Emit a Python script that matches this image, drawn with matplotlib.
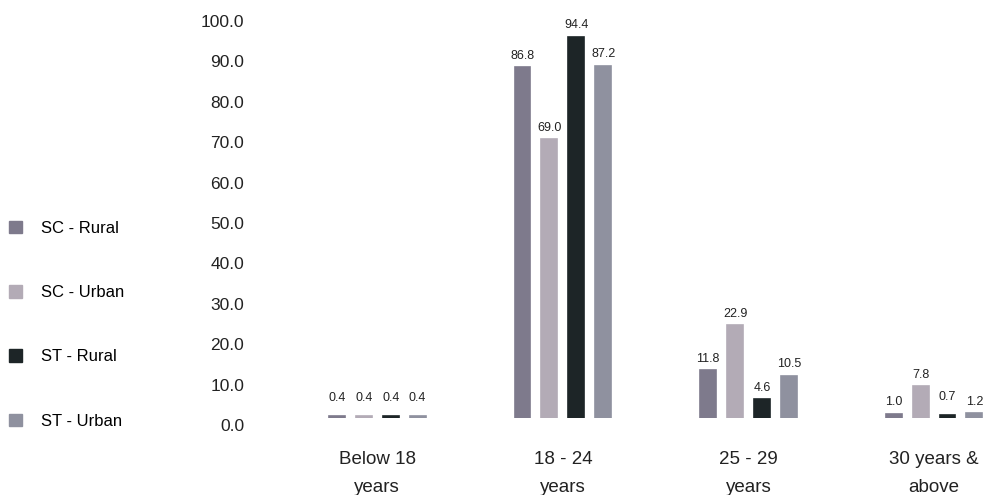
import numpy as np
import matplotlib.pyplot as plt
from matplotlib.patches import Patch
from matplotlib.transforms import ScaledTranslation

plt.rcParams['font.family'] = ['Liberation Sans', 'DejaVu Sans']

categories = ['Below 18\nyears', '18 - 24\nyears', '25 - 29\nyears', '30 years &\nabove']
series = ['SC - Rural', 'SC - Urban', 'ST - Rural', 'ST - Urban']
sc_rural = [0.4, 86.8, 11.8, 1.0]
sc_urban = [0.4, 69.0, 22.9, 7.8]
st_rural = [0.4, 94.4, 4.6, 0.7]
st_urban = [0.4, 87.2, 10.5, 1.2]
colors = ['#7e7a8c', '#b3abb6', '#1d2527', '#8f919f']

def main():
    fig = plt.figure(figsize=(9.86, 4.95), dpi=100)
    ax = fig.add_axes([0.259, 0.1556, 0.741, 0.816])

    x = np.arange(len(categories))
    step = 0.145
    width = 0.086
    values = [sc_rural, sc_urban, st_rural, st_urban]
    for i, vals in enumerate(values):
        pos = x + (i - 1.5) * step
        bars = ax.bar(pos, vals, width, color=colors[i], label=series[i],
                      edgecolor=colors[i], linewidth=1.2)
        for b, v in zip(bars, vals):
            off = 9 if v < 1 else 4
            ax.annotate(f'{v:.1f}', (b.get_x() + b.get_width() / 2, v),
                        xytext=(0, off), textcoords='offset points',
                        ha='center', va='bottom', fontsize=9, color='#222222')

    ax.set_xlim(-0.657, 3.28)
    ax.set_ylim(0, 100)
    ax.set_yticks(np.arange(0, 101, 10))
    ax.set_yticklabels([f'{t:.1f}' for t in np.arange(0, 101, 10)])
    ax.set_xticks(x)
    ax.set_xticklabels(categories, linespacing=1.8)
    ax.tick_params(axis='both', length=0, colors='#222222')
    ax.tick_params(axis='x', pad=24, labelsize=13.5)
    ax.tick_params(axis='y', pad=8, labelsize=12.5)
    # tick labels sit a little below their value
    shift = ScaledTranslation(0, -7 / 100, fig.dpi_scale_trans)
    for lbl in ax.get_yticklabels():
        lbl.set_transform(lbl.get_transform() + shift)
    for s in ax.spines.values():
        s.set_visible(False)

    handles = [Patch(facecolor=c, edgecolor=c) for c in colors]
    fig.legend(handles, series, loc='upper left', bbox_to_anchor=(0.009, 0.5545),
               frameon=False, fontsize=12, handlelength=0.8, handleheight=0.8,
               handletextpad=1.1, labelspacing=2.95, borderpad=0, borderaxespad=0)

    fig.savefig('out.png', dpi=100)

if __name__ == '__main__':
    main()
